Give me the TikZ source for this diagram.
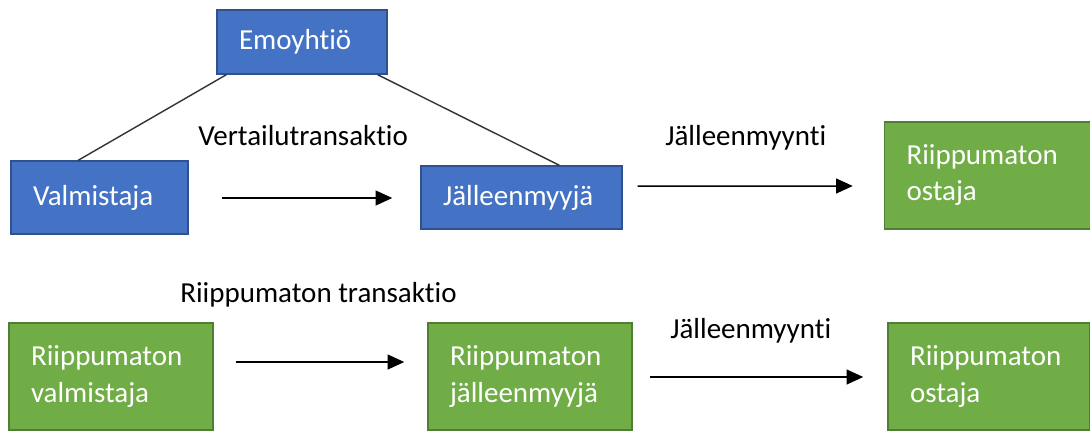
\documentclass[tikz,border=0pt]{standalone}
\usepackage{fontspec}
\setmainfont{Carlito}[RawFeature={-liga;-clig;-calt;-dlig;-rlig;-ccmp}]
\usetikzlibrary{arrows.meta}
\definecolor{boxblue}{HTML}{4472C4}
\definecolor{edgeblue}{HTML}{2F528F}
\definecolor{boxgreen}{HTML}{70AD47}
\definecolor{edgegreen}{HTML}{507E32}
\begin{document}
\begin{tikzpicture}[x=0.02cm,y=-0.02cm,
			font=\fontsize{16.5}{20.5}\selectfont,
			box/.style = {draw,line width=0.85pt,align=left,text=white,inner xsep=0.44cm,inner ysep=0pt},
			related/.style = {box,fill=boxblue,draw=edgeblue},
			indep/.style = {box,fill=boxgreen,draw=edgegreen},
			lbl/.style = {anchor=base west,inner sep=0pt,text=black},
			link/.style = {draw=black!80,line width=0.8pt},
			arr/.style = {line width=0.85pt,-{Triangle[length=9.5pt,width=8.5pt]}}]
			\useasboundingbox (0,0) rectangle (1090,430);
			\node [related, text width=2.52cm, minimum height=1.28cm] (emo) at (302,42) {Emoyhtiö};
			\node [related, text width=2.66cm, minimum height=1.46cm] (valm) at (99.5,197.5) {Valmistaja};
			\node [related, text width=3.14cm, minimum height=1.26cm] (jalm) at (521.5,197.5) {Jälleenmyyjä};
			\node [indep, text width=3.24cm, minimum height=2.14cm] (ost1) at (987.5,175.5) {Riippumaton\\ostaja};
			\node [indep, text width=3.2cm, minimum height=2.14cm] (rvalm) at (111,376.5) {Riippumaton\\valmistaja};
			\node [indep, text width=3.2cm, minimum height=2.14cm] (rjalm) at (530,376.5) {Riippumaton\\jälleenmyyjä};
			\node [indep, text width=3.16cm, minimum height=2.14cm] (ost2) at (989,376.5) {Riippumaton\\ostaja};
			\node [lbl] (vert) at (198,145) {Vertailutransaktio};
			\node [lbl] (jm1) at (665,145) {Jälleenmyynti};
			\node [lbl] (rtr) at (180,302) {Riippumaton transaktio};
			\node [lbl] (jm2) at (670,338) {Jälleenmyynti};
			\draw [link] ([shift={(10,0)}]emo.south west) -- ([shift={(68,0)}]valm.north west);
			\draw [link] ([shift={(-10,0)}]emo.south east) -- ([shift={(139,0)}]jalm.north west);
			\draw [arr] ([shift={(33,0.5)}]valm.east) -- ([shift={(-28,0.5)}]jalm.west);
			\draw [arr] ([shift={(15,-11.5)}]jalm.east) -- ([shift={(-31,10.5)}]ost1.west);
			\draw [arr] ([shift={(22,-14.5)}]rvalm.east) -- ([shift={(-23,-14.5)}]rjalm.west);
			\draw [arr] ([shift={(17,0.5)}]rjalm.east) -- ([shift={(-24,0.5)}]ost2.west);
		\end{tikzpicture}
\end{document}
